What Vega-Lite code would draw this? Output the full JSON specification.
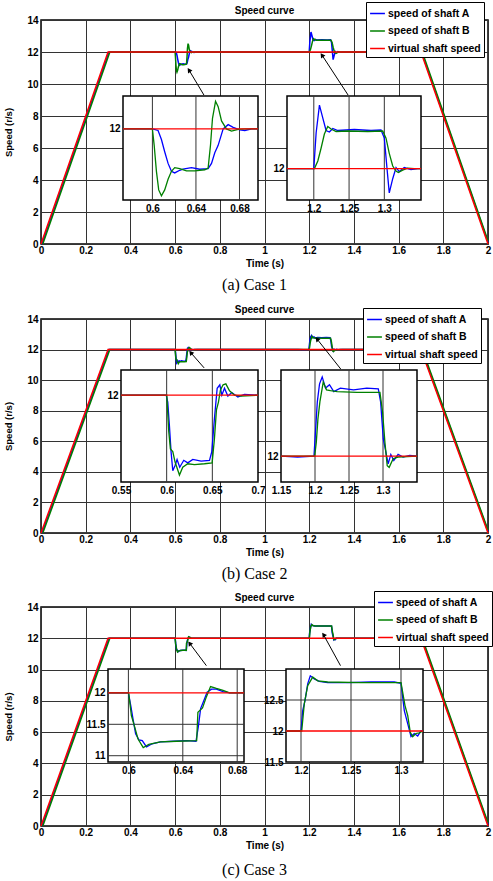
{
"$schema": "https://vega.github.io/schema/vega-lite/v6.json",
"padding": {"left": 3, "top": 0, "right": 0, "bottom": 0},
"spacing": 0,
"columns": 1,
"config": {
  "font": "Liberation Sans",
  "view": {"stroke": "black", "strokeWidth": 1.5},
  "axis": {"labelColor": "black", "titleColor": "black", "labelFontWeight": "bold", "titleFontWeight": "bold", "labelFontSize": 10, "titleFontSize": 10, "labelFont": "Liberation Sans", "titleFont": "Liberation Sans"},
  "title": {"font": "Liberation Sans", "fontSize": 10, "fontWeight": "bold", "color": "black", "frame": "group", "anchor": "middle"}
},
"resolve": {"scale": {"color": "independent"}},
"datasets": {
"p1": [
{"t":0.004,"v":0,"s":"A"},{"t":0.304,"v":12,"s":"A"},{"t":0.573,"v":12,"s":"A"},{"t":0.6,"v":12,"s":"A"},{"t":0.6052,"v":11.97,"s":"A"},{"t":0.6083,"v":11.8,"s":"A"},{"t":0.6113,"v":11.57,"s":"A"},{"t":0.6144,"v":11.35,"s":"A"},{"t":0.6175,"v":11.2,"s":"A"},{"t":0.6205,"v":11.17,"s":"A"},{"t":0.6251,"v":11.22,"s":"A"},{"t":0.628,"v":11.24,"s":"A"},{"t":0.6359,"v":11.27,"s":"A"},{"t":0.6435,"v":11.24,"s":"A"},{"t":0.6512,"v":11.25,"s":"A"},{"t":0.6543,"v":11.35,"s":"A"},{"t":0.6573,"v":11.55,"s":"A"},{"t":0.6604,"v":11.69,"s":"A"},{"t":0.665,"v":12.0,"s":"A"},{"t":0.6696,"v":12.08,"s":"A"},{"t":0.6742,"v":12.03,"s":"A"},{"t":0.6803,"v":11.98,"s":"A"},{"t":0.6849,"v":11.97,"s":"A"},{"t":0.6911,"v":12.0,"s":"A"},{"t":0.697,"v":12,"s":"A"},{"t":1.162,"v":12,"s":"A"},{"t":1.2,"v":12,"s":"A"},{"t":1.2033,"v":12.7,"s":"A"},{"t":1.208,"v":13.25,"s":"A"},{"t":1.2127,"v":13.0,"s":"A"},{"t":1.2174,"v":12.75,"s":"A"},{"t":1.2221,"v":12.72,"s":"A"},{"t":1.2269,"v":12.79,"s":"A"},{"t":1.234,"v":12.75,"s":"A"},{"t":1.2575,"v":12.77,"s":"A"},{"t":1.2811,"v":12.75,"s":"A"},{"t":1.2953,"v":12.76,"s":"A"},{"t":1.3,"v":12.6,"s":"A"},{"t":1.3038,"v":12.0,"s":"A"},{"t":1.307,"v":11.52,"s":"A"},{"t":1.3119,"v":11.8,"s":"A"},{"t":1.3166,"v":12.02,"s":"A"},{"t":1.3212,"v":11.94,"s":"A"},{"t":1.3283,"v":12.02,"s":"A"},{"t":1.3378,"v":11.98,"s":"A"},{"t":1.3473,"v":12.0,"s":"A"},{"t":1.352,"v":12,"s":"A"},{"t":1.703,"v":12,"s":"A"},{"t":2.0,"v":0.12,"s":"A"},
{"t":0.008,"v":0,"s":"B"},{"t":0.308,"v":12,"s":"B"},{"t":0.573,"v":12,"s":"B"},{"t":0.6,"v":12,"s":"B"},{"t":0.6016,"v":11.7,"s":"B"},{"t":0.6037,"v":11.2,"s":"B"},{"t":0.6058,"v":10.85,"s":"B"},{"t":0.6083,"v":10.74,"s":"B"},{"t":0.6113,"v":10.85,"s":"B"},{"t":0.6144,"v":11.05,"s":"B"},{"t":0.6175,"v":11.2,"s":"B"},{"t":0.6205,"v":11.27,"s":"B"},{"t":0.6251,"v":11.25,"s":"B"},{"t":0.6313,"v":11.21,"s":"B"},{"t":0.639,"v":11.21,"s":"B"},{"t":0.6481,"v":11.23,"s":"B"},{"t":0.6512,"v":11.26,"s":"B"},{"t":0.6534,"v":11.7,"s":"B"},{"t":0.6552,"v":12.2,"s":"B"},{"t":0.658,"v":12.52,"s":"B"},{"t":0.6604,"v":12.42,"s":"B"},{"t":0.6635,"v":12.15,"s":"B"},{"t":0.668,"v":12.0,"s":"B"},{"t":0.6727,"v":11.96,"s":"B"},{"t":0.6788,"v":11.99,"s":"B"},{"t":0.6849,"v":12.0,"s":"B"},{"t":0.697,"v":12,"s":"B"},{"t":1.162,"v":12,"s":"B"},{"t":1.2009,"v":12,"s":"B"},{"t":1.2057,"v":12.15,"s":"B"},{"t":1.2103,"v":12.4,"s":"B"},{"t":1.215,"v":12.68,"s":"B"},{"t":1.2198,"v":12.83,"s":"B"},{"t":1.2245,"v":12.78,"s":"B"},{"t":1.2316,"v":12.73,"s":"B"},{"t":1.2481,"v":12.74,"s":"B"},{"t":1.2765,"v":12.73,"s":"B"},{"t":1.2977,"v":12.74,"s":"B"},{"t":1.3024,"v":12.6,"s":"B"},{"t":1.307,"v":12.3,"s":"B"},{"t":1.3119,"v":12.05,"s":"B"},{"t":1.3166,"v":11.95,"s":"B"},{"t":1.3198,"v":11.92,"s":"B"},{"t":1.326,"v":11.97,"s":"B"},{"t":1.3331,"v":12.01,"s":"B"},{"t":1.3425,"v":12.0,"s":"B"},{"t":1.352,"v":12,"s":"B"},{"t":1.706,"v":12,"s":"B"},{"t":2.0,"v":0.2,"s":"B"},
{"t":0,"v":0,"s":"V"},{"t":0.3,"v":12,"s":"V"},{"t":0.573,"v":12,"s":"V"},{"t":0.697,"v":12,"s":"V"},{"t":1.162,"v":12,"s":"V"},{"t":1.352,"v":12,"s":"V"},{"t":1.7,"v":12,"s":"V"},{"t":2.0,"v":0,"s":"V"}
],
"p2": [
{"t":0.004,"v":0,"s":"A"},{"t":0.304,"v":12,"s":"A"},{"t":0.55,"v":12,"s":"A"},{"t":0.5995,"v":12,"s":"A"},{"t":0.6012,"v":11.92,"s":"A"},{"t":0.603,"v":11.65,"s":"A"},{"t":0.6048,"v":11.35,"s":"A"},{"t":0.6067,"v":11.13,"s":"A"},{"t":0.6092,"v":11.19,"s":"A"},{"t":0.6114,"v":11.26,"s":"A"},{"t":0.6143,"v":11.17,"s":"A"},{"t":0.6187,"v":11.25,"s":"A"},{"t":0.6231,"v":11.22,"s":"A"},{"t":0.6286,"v":11.26,"s":"A"},{"t":0.6377,"v":11.24,"s":"A"},{"t":0.6469,"v":11.25,"s":"A"},{"t":0.6494,"v":11.35,"s":"A"},{"t":0.6523,"v":11.73,"s":"A"},{"t":0.6553,"v":12.08,"s":"A"},{"t":0.6582,"v":12.12,"s":"A"},{"t":0.6604,"v":12.0,"s":"A"},{"t":0.6633,"v":12.08,"s":"A"},{"t":0.667,"v":11.99,"s":"A"},{"t":0.6713,"v":12.03,"s":"A"},{"t":0.6779,"v":11.98,"s":"A"},{"t":0.6852,"v":12.01,"s":"A"},{"t":0.7,"v":12,"s":"A"},{"t":1.15,"v":12,"s":"A"},{"t":1.1743,"v":11.99,"s":"A"},{"t":1.1985,"v":12,"s":"A"},{"t":1.201,"v":12.32,"s":"A"},{"t":1.2034,"v":12.63,"s":"A"},{"t":1.2067,"v":12.84,"s":"A"},{"t":1.2106,"v":12.92,"s":"A"},{"t":1.2155,"v":12.79,"s":"A"},{"t":1.2213,"v":12.83,"s":"A"},{"t":1.2276,"v":12.75,"s":"A"},{"t":1.2373,"v":12.79,"s":"A"},{"t":1.2567,"v":12.77,"s":"A"},{"t":1.2761,"v":12.79,"s":"A"},{"t":1.2931,"v":12.78,"s":"A"},{"t":1.2965,"v":12.63,"s":"A"},{"t":1.3004,"v":12.2,"s":"A"},{"t":1.3037,"v":12.07,"s":"A"},{"t":1.3076,"v":11.91,"s":"A"},{"t":1.3115,"v":12.02,"s":"A"},{"t":1.3159,"v":11.95,"s":"A"},{"t":1.3222,"v":12.02,"s":"A"},{"t":1.3295,"v":11.99,"s":"A"},{"t":1.3392,"v":12.01,"s":"A"},{"t":1.35,"v":12,"s":"A"},{"t":1.703,"v":12,"s":"A"},{"t":2.0,"v":0.12,"s":"A"},
{"t":0.008,"v":0,"s":"B"},{"t":0.308,"v":12,"s":"B"},{"t":0.55,"v":12,"s":"B"},{"t":0.6001,"v":12,"s":"B"},{"t":0.6023,"v":11.58,"s":"B"},{"t":0.6041,"v":11.38,"s":"B"},{"t":0.6067,"v":11.35,"s":"B"},{"t":0.6092,"v":11.23,"s":"B"},{"t":0.614,"v":11.08,"s":"B"},{"t":0.6176,"v":11.17,"s":"B"},{"t":0.6231,"v":11.21,"s":"B"},{"t":0.6304,"v":11.2,"s":"B"},{"t":0.6414,"v":11.21,"s":"B"},{"t":0.6498,"v":11.22,"s":"B"},{"t":0.6523,"v":11.5,"s":"B"},{"t":0.6545,"v":11.83,"s":"B"},{"t":0.6567,"v":11.92,"s":"B"},{"t":0.6589,"v":12.06,"s":"B"},{"t":0.6618,"v":12.12,"s":"B"},{"t":0.6648,"v":12.13,"s":"B"},{"t":0.6688,"v":12.05,"s":"B"},{"t":0.6743,"v":12.0,"s":"B"},{"t":0.6816,"v":11.99,"s":"B"},{"t":0.7,"v":12,"s":"B"},{"t":1.15,"v":12,"s":"B"},{"t":1.1995,"v":12,"s":"B"},{"t":1.2019,"v":12.16,"s":"B"},{"t":1.2043,"v":12.43,"s":"B"},{"t":1.2072,"v":12.63,"s":"B"},{"t":1.2121,"v":12.86,"s":"B"},{"t":1.2169,"v":12.77,"s":"B"},{"t":1.2228,"v":12.76,"s":"B"},{"t":1.2325,"v":12.75,"s":"B"},{"t":1.2616,"v":12.74,"s":"B"},{"t":1.2955,"v":12.74,"s":"B"},{"t":1.2994,"v":12.51,"s":"B"},{"t":1.3028,"v":12.16,"s":"B"},{"t":1.3062,"v":11.89,"s":"B"},{"t":1.3091,"v":11.87,"s":"B"},{"t":1.3149,"v":11.97,"s":"B"},{"t":1.3222,"v":11.99,"s":"B"},{"t":1.35,"v":12,"s":"B"},{"t":1.706,"v":12,"s":"B"},{"t":2.0,"v":0.2,"s":"B"},
{"t":0,"v":0,"s":"V"},{"t":0.3,"v":12,"s":"V"},{"t":0.55,"v":12,"s":"V"},{"t":0.7,"v":12,"s":"V"},{"t":1.15,"v":12,"s":"V"},{"t":1.35,"v":12,"s":"V"},{"t":1.7,"v":12,"s":"V"},{"t":2.0,"v":0,"s":"V"}
],
"p3": [
{"t":0.004,"v":0,"s":"A"},{"t":0.304,"v":12,"s":"A"},{"t":0.585,"v":12,"s":"A"},{"t":0.6,"v":12,"s":"A"},{"t":0.6017,"v":11.8,"s":"A"},{"t":0.6036,"v":11.56,"s":"A"},{"t":0.6053,"v":11.35,"s":"A"},{"t":0.6078,"v":11.25,"s":"A"},{"t":0.6102,"v":11.24,"s":"A"},{"t":0.6133,"v":11.14,"s":"A"},{"t":0.6175,"v":11.19,"s":"A"},{"t":0.6235,"v":11.22,"s":"A"},{"t":0.6332,"v":11.23,"s":"A"},{"t":0.6429,"v":11.24,"s":"A"},{"t":0.6497,"v":11.23,"s":"A"},{"t":0.6514,"v":11.46,"s":"A"},{"t":0.6531,"v":11.75,"s":"A"},{"t":0.6555,"v":11.88,"s":"A"},{"t":0.6579,"v":12.01,"s":"A"},{"t":0.6611,"v":12.06,"s":"A"},{"t":0.6647,"v":12.06,"s":"A"},{"t":0.6696,"v":12.02,"s":"A"},{"t":0.6744,"v":12.0,"s":"A"},{"t":0.685,"v":12,"s":"A"},{"t":1.185,"v":12,"s":"A"},{"t":1.2,"v":12,"s":"A"},{"t":1.2017,"v":12.33,"s":"A"},{"t":1.204,"v":12.49,"s":"A"},{"t":1.2067,"v":12.76,"s":"A"},{"t":1.2093,"v":12.89,"s":"A"},{"t":1.2133,"v":12.84,"s":"A"},{"t":1.2183,"v":12.8,"s":"A"},{"t":1.2267,"v":12.78,"s":"A"},{"t":1.2467,"v":12.78,"s":"A"},{"t":1.27,"v":12.79,"s":"A"},{"t":1.2933,"v":12.79,"s":"A"},{"t":1.3,"v":12.77,"s":"A"},{"t":1.3033,"v":12.33,"s":"A"},{"t":1.3067,"v":12.12,"s":"A"},{"t":1.31,"v":11.91,"s":"A"},{"t":1.3133,"v":11.96,"s":"A"},{"t":1.3167,"v":11.92,"s":"A"},{"t":1.32,"v":12.0,"s":"A"},{"t":1.322,"v":12,"s":"A"},{"t":1.703,"v":12,"s":"A"},{"t":2.0,"v":0.12,"s":"A"},
{"t":0.008,"v":0,"s":"B"},{"t":0.308,"v":12,"s":"B"},{"t":0.585,"v":12,"s":"B"},{"t":0.6002,"v":12,"s":"B"},{"t":0.6022,"v":11.64,"s":"B"},{"t":0.6046,"v":11.46,"s":"B"},{"t":0.607,"v":11.27,"s":"B"},{"t":0.6109,"v":11.13,"s":"B"},{"t":0.615,"v":11.18,"s":"B"},{"t":0.6235,"v":11.22,"s":"B"},{"t":0.6356,"v":11.23,"s":"B"},{"t":0.6502,"v":11.24,"s":"B"},{"t":0.6511,"v":11.69,"s":"B"},{"t":0.6545,"v":11.76,"s":"B"},{"t":0.6574,"v":11.94,"s":"B"},{"t":0.6604,"v":12.1,"s":"B"},{"t":0.6647,"v":12.07,"s":"B"},{"t":0.6696,"v":12.04,"s":"B"},{"t":0.6744,"v":12.0,"s":"B"},{"t":0.685,"v":12,"s":"B"},{"t":1.185,"v":12,"s":"B"},{"t":1.2007,"v":12,"s":"B"},{"t":1.2033,"v":12.44,"s":"B"},{"t":1.2067,"v":12.73,"s":"B"},{"t":1.2117,"v":12.87,"s":"B"},{"t":1.2167,"v":12.81,"s":"B"},{"t":1.2267,"v":12.79,"s":"B"},{"t":1.26,"v":12.78,"s":"B"},{"t":1.3,"v":12.78,"s":"B"},{"t":1.304,"v":12.41,"s":"B"},{"t":1.3067,"v":12.25,"s":"B"},{"t":1.3093,"v":11.98,"s":"B"},{"t":1.3117,"v":11.91,"s":"B"},{"t":1.315,"v":11.96,"s":"B"},{"t":1.3183,"v":11.97,"s":"B"},{"t":1.322,"v":12,"s":"B"},{"t":1.706,"v":12,"s":"B"},{"t":2.0,"v":0.2,"s":"B"},
{"t":0,"v":0,"s":"V"},{"t":0.3,"v":12,"s":"V"},{"t":0.585,"v":12,"s":"V"},{"t":0.685,"v":12,"s":"V"},{"t":1.185,"v":12,"s":"V"},{"t":1.322,"v":12,"s":"V"},{"t":1.7,"v":12,"s":"V"},{"t":2.0,"v":0,"s":"V"}
]
},
"concat": [
{
 "width": 447, "height": 224,
 "title": {"text": "Speed curve", "offset": -14.5},
 "data": {"name": "p1"},
 "layer": [
  {"mark": {"type": "line", "strokeWidth": 1.5},
   "encoding": {
    "x": {"field": "t", "type": "quantitative", "title": "Time (s)", "scale": {"domain": [0, 2], "nice": false, "zero": false},
          "axis": {"values": [0,0.2,0.4,0.6,0.8,1,1.2,1.4,1.6,1.8,2], "format": "~g", "grid": true, "gridColor": "#333", "gridOpacity": 1, "gridWidth": 1, "ticks": false, "domain": false, "labelPadding": 1, "labelFlush": false, "labelOverlap": false, "titlePadding": 3, "zindex": 0}},
    "y": {"field": "v", "type": "quantitative", "title": "Speed (r/s)", "scale": {"domain": [0, 14], "nice": false},
          "axis": {"values": [0,2,4,6,8,10,12,14], "format": "d", "grid": true, "gridColor": "#333", "gridOpacity": 1, "gridWidth": 1, "ticks": false, "domain": false, "labelPadding": 3, "labelOverlap": false, "labelFlush": false, "minExtent": 0, "titlePadding": 13, "titleFontSize": 9.5, "zindex": 0}},
    "color": {"field": "s", "type": "nominal", "scale": {"domain": ["A", "B", "V"], "range": ["#0000ff", "#008000", "#ff0000"]},
              "legend": {"orient": "none", "legendX": 325, "legendY": -18, "title": null, "labelExpr": "datum.label == 'A' ? 'speed of shaft A' : datum.label == 'B' ? 'speed of shaft B' : 'virtual shaft speed'", "symbolType": "stroke", "symbolStrokeWidth": 1.5, "symbolSize": 220, "labelFontSize": 10.5, "labelFontWeight": "bold", "labelFont": "Liberation Sans", "labelColor": "black", "strokeColor": "black", "fillColor": "white", "padding": 3, "rowPadding": 3.5, "labelOffset": 2, "labelLimit": 200}}
   }},
  {"data": {"values": [{"t1": 0.729, "v1": 9.31, "t2": 0.662, "v2": 10.875}, {"t1": 1.374, "v1": 9.31, "t2": 1.257, "v2": 11.81}]},
   "encoding": {"x": {"field": "t2", "type": "quantitative", "axis": null, "scale": {"domain": [0, 2], "nice": false, "zero": false}}, "y": {"field": "v2", "type": "quantitative", "axis": null, "scale": {"domain": [0, 14], "nice": false}}},
   "layer": [
    {"mark": {"type": "rule", "color": "black", "strokeWidth": 1}, "encoding": {"x2": {"field": "t1"}, "y2": {"field": "v1"}}},
    {"mark": {"type": "point", "shape": "triangle-up", "filled": true, "color": "black", "opacity": 1, "size": 28, "angle": 326}}
   ]},
  {"encoding": {
     "x": {"field": "t", "type": "quantitative", "scale": {"domain": [0.573, 0.697], "range": [82, 217], "nice": false, "zero": false}, "axis": {"orient": "bottom", "offset": -44, "values": [0.6, 0.64, 0.68], "format": "~g", "grid": false, "ticks": false, "domain": false, "labelPadding": 3, "labelFlush": false, "labelOverlap": false, "title": null, "zindex": 2}},
     "y": {"field": "v", "type": "quantitative", "scale": {"domain": [10.66, 12.62], "range": [180, 76], "nice": false, "zero": false}, "axis": {"orient": "left", "offset": -82, "values": [12], "format": "~g", "grid": false, "ticks": false, "domain": false, "labelPadding": 3, "minExtent": 0, "labelOverlap": false, "title": null, "zindex": 2}}},
   "layer": [
    {"data": {"values": [{"t": 0.573, "t2": 0.697, "v": 10.66, "v2": 12.62}]}, "mark": {"type": "rect", "fill": "white", "stroke": "black", "strokeWidth": 1.5}, "encoding": {"x2": {"field": "t2"}, "y2": {"field": "v2"}}},
    {"data": {"values": [{"t": 0.6, "t2": 0.6, "v": 10.66, "v2": 12.62}, {"t": 0.64, "t2": 0.64, "v": 10.66, "v2": 12.62}, {"t": 0.68, "t2": 0.68, "v": 10.66, "v2": 12.62}]}, "mark": {"type": "rule", "color": "#333", "strokeWidth": 1}, "encoding": {"x2": {"field": "t2"}, "y2": {"field": "v2"}}},
    {"transform": [{"filter": {"field": "t", "range": [0.573, 0.697]}}], "mark": {"type": "line", "strokeWidth": 1.3}, "encoding": {"color": {"field": "s", "type": "nominal", "legend": null}}}
   ]},
  {"encoding": {
     "x": {"field": "t", "type": "quantitative", "scale": {"domain": [1.162, 1.352], "range": [246, 380], "nice": false, "zero": false}, "axis": {"orient": "bottom", "offset": -44, "values": [1.2, 1.25, 1.3], "format": "~g", "grid": false, "ticks": false, "domain": false, "labelPadding": 3, "labelFlush": false, "labelOverlap": false, "title": null, "zindex": 2}},
     "y": {"field": "v", "type": "quantitative", "scale": {"domain": [11.38, 13.43], "range": [180, 76], "nice": false, "zero": false}, "axis": {"orient": "left", "offset": -246, "values": [12], "format": "~g", "grid": false, "ticks": false, "domain": false, "labelPadding": 3, "minExtent": 0, "labelOverlap": false, "title": null, "zindex": 2}}},
   "layer": [
    {"data": {"values": [{"t": 1.162, "t2": 1.352, "v": 11.38, "v2": 13.43}]}, "mark": {"type": "rect", "fill": "white", "stroke": "black", "strokeWidth": 1.5}, "encoding": {"x2": {"field": "t2"}, "y2": {"field": "v2"}}},
    {"data": {"values": [{"t": 1.2, "t2": 1.2, "v": 11.38, "v2": 13.43}, {"t": 1.25, "t2": 1.25, "v": 11.38, "v2": 13.43}, {"t": 1.3, "t2": 1.3, "v": 11.38, "v2": 13.43}]}, "mark": {"type": "rule", "color": "#333", "strokeWidth": 1}, "encoding": {"x2": {"field": "t2"}, "y2": {"field": "v2"}}},
    {"transform": [{"filter": {"field": "t", "range": [1.162, 1.352]}}], "mark": {"type": "line", "strokeWidth": 1.3}, "encoding": {"color": {"field": "s", "type": "nominal", "legend": null}}}
   ]}
 ],
 "resolve": {"scale": {"x": "independent", "y": "independent"}}
},
{"width": 447, "height": 35, "view": {"stroke": null}, "data": {"values": [{"c": "(a) Case 1"}]}, "mark": {"type": "text", "font": "Liberation Serif", "fontSize": 16, "color": "black", "dx": -10, "dy": -2}, "encoding": {"text": {"field": "c"}}},
{
 "width": 447, "height": 214,
 "title": {"text": "Speed curve", "offset": -7.5},
 "data": {"name": "p2"},
 "layer": [
  {"mark": {"type": "line", "strokeWidth": 1.5},
   "encoding": {
    "x": {"field": "t", "type": "quantitative", "title": "Time (s)", "scale": {"domain": [0, 2], "nice": false, "zero": false},
          "axis": {"values": [0,0.2,0.4,0.6,0.8,1,1.2,1.4,1.6,1.8,2], "format": "~g", "grid": true, "gridColor": "#333", "gridOpacity": 1, "gridWidth": 1, "ticks": false, "domain": false, "labelPadding": 1, "labelFlush": false, "labelOverlap": false, "titlePadding": 3, "zindex": 0}},
    "y": {"field": "v", "type": "quantitative", "title": "Speed (r/s)", "scale": {"domain": [0, 14], "nice": false},
          "axis": {"values": [0,2,4,6,8,10,12,14], "format": "d", "grid": true, "gridColor": "#333", "gridOpacity": 1, "gridWidth": 1, "ticks": false, "domain": false, "labelPadding": 3, "labelOverlap": false, "labelFlush": false, "minExtent": 0, "titlePadding": 13, "titleFontSize": 9.5, "zindex": 0}},
    "color": {"field": "s", "type": "nominal", "scale": {"domain": ["A", "B", "V"], "range": ["#0000ff", "#008000", "#ff0000"]},
              "legend": {"orient": "none", "legendX": 322, "legendY": -11, "title": null, "labelExpr": "datum.label == 'A' ? 'speed of shaft A' : datum.label == 'B' ? 'speed of shaft B' : 'virtual shaft speed'", "symbolType": "stroke", "symbolStrokeWidth": 1.5, "symbolSize": 220, "labelFontSize": 10.5, "labelFontWeight": "bold", "labelFont": "Liberation Sans", "labelColor": "black", "strokeColor": "black", "fillColor": "white", "padding": 3, "rowPadding": 3.5, "labelOffset": 2, "labelLimit": 200}}
   }},
  {"data": {"values": [{"t1": 0.73, "v1": 10.8, "t2": 0.67, "v2": 11.8}, {"t1": 1.341, "v1": 10.73, "t2": 1.235, "v2": 12.69}]},
   "encoding": {"x": {"field": "t2", "type": "quantitative", "axis": null, "scale": {"domain": [0, 2], "nice": false, "zero": false}}, "y": {"field": "v2", "type": "quantitative", "axis": null, "scale": {"domain": [0, 14], "nice": false}}},
   "layer": [
    {"mark": {"type": "rule", "color": "black", "strokeWidth": 1}, "encoding": {"x2": {"field": "t1"}, "y2": {"field": "v1"}}},
    {"mark": {"type": "point", "shape": "triangle-up", "filled": true, "color": "black", "opacity": 1, "size": 28, "angle": 320}}
   ]},
  {"encoding": {
     "x": {"field": "t", "type": "quantitative", "scale": {"domain": [0.55, 0.7], "range": [80, 217], "nice": false, "zero": false}, "axis": {"orient": "bottom", "offset": -51, "values": [0.55, 0.6, 0.65, 0.7], "format": "~g", "grid": false, "ticks": false, "domain": false, "labelPadding": 3, "labelFlush": false, "labelOverlap": false, "title": null, "zindex": 2}},
     "y": {"field": "v", "type": "quantitative", "scale": {"domain": [11.0, 12.29], "range": [163, 51], "nice": false, "zero": false}, "axis": {"orient": "left", "offset": -80, "values": [12], "format": "~g", "grid": false, "ticks": false, "domain": false, "labelPadding": 3, "minExtent": 0, "labelOverlap": false, "title": null, "zindex": 2}}},
   "layer": [
    {"data": {"values": [{"t": 0.55, "t2": 0.7, "v": 11.0, "v2": 12.29}]}, "mark": {"type": "rect", "fill": "white", "stroke": "black", "strokeWidth": 1.5}, "encoding": {"x2": {"field": "t2"}, "y2": {"field": "v2"}}},
    {"data": {"values": [{"t": 0.6, "t2": 0.6, "v": 11.0, "v2": 12.29}, {"t": 0.65, "t2": 0.65, "v": 11.0, "v2": 12.29}]}, "mark": {"type": "rule", "color": "#333", "strokeWidth": 1}, "encoding": {"x2": {"field": "t2"}, "y2": {"field": "v2"}}},
    {"transform": [{"filter": {"field": "t", "range": [0.55, 0.7]}}], "mark": {"type": "line", "strokeWidth": 1.3}, "encoding": {"color": {"field": "s", "type": "nominal", "legend": null}}}
   ]},
  {"encoding": {
     "x": {"field": "t", "type": "quantitative", "scale": {"domain": [1.15, 1.35], "range": [240, 376], "nice": false, "zero": false}, "axis": {"orient": "bottom", "offset": -51, "values": [1.15, 1.2, 1.25, 1.3], "format": "~g", "grid": false, "ticks": false, "domain": false, "labelPadding": 3, "labelFlush": false, "labelOverlap": false, "title": null, "zindex": 2}},
     "y": {"field": "v", "type": "quantitative", "scale": {"domain": [11.7, 13.0], "range": [163, 51], "nice": false, "zero": false}, "axis": {"orient": "left", "offset": -240, "values": [12], "format": "~g", "grid": false, "ticks": false, "domain": false, "labelPadding": 3, "minExtent": 0, "labelOverlap": false, "title": null, "zindex": 2}}},
   "layer": [
    {"data": {"values": [{"t": 1.15, "t2": 1.35, "v": 11.7, "v2": 13.0}]}, "mark": {"type": "rect", "fill": "white", "stroke": "black", "strokeWidth": 1.5}, "encoding": {"x2": {"field": "t2"}, "y2": {"field": "v2"}}},
    {"data": {"values": [{"t": 1.2, "t2": 1.2, "v": 11.7, "v2": 13.0}, {"t": 1.25, "t2": 1.25, "v": 11.7, "v2": 13.0}, {"t": 1.3, "t2": 1.3, "v": 11.7, "v2": 13.0}]}, "mark": {"type": "rule", "color": "#333", "strokeWidth": 1}, "encoding": {"x2": {"field": "t2"}, "y2": {"field": "v2"}}},
    {"transform": [{"filter": {"field": "t", "range": [1.15, 1.35]}}], "mark": {"type": "line", "strokeWidth": 1.3}, "encoding": {"color": {"field": "s", "type": "nominal", "legend": null}}}
   ]}
 ],
 "resolve": {"scale": {"x": "independent", "y": "independent"}}
},
{"width": 447, "height": 31, "view": {"stroke": null}, "data": {"values": [{"c": "(b) Case 2"}]}, "mark": {"type": "text", "font": "Liberation Serif", "fontSize": 16, "color": "black", "dx": -10, "dy": 0}, "encoding": {"text": {"field": "c"}}},
{
 "width": 447, "height": 219,
 "title": {"text": "Speed curve", "offset": -12.5},
 "data": {"name": "p3"},
 "layer": [
  {"mark": {"type": "line", "strokeWidth": 1.5},
   "encoding": {
    "x": {"field": "t", "type": "quantitative", "title": "Time (s)", "scale": {"domain": [0, 2], "nice": false, "zero": false},
          "axis": {"values": [0,0.2,0.4,0.6,0.8,1,1.2,1.4,1.6,1.8,2], "format": "~g", "grid": true, "gridColor": "#333", "gridOpacity": 1, "gridWidth": 1, "ticks": false, "domain": false, "labelPadding": 1, "labelFlush": false, "labelOverlap": false, "titlePadding": 3, "zindex": 0}},
    "y": {"field": "v", "type": "quantitative", "title": "Speed (r/s)", "scale": {"domain": [0, 14], "nice": false},
          "axis": {"values": [0,2,4,6,8,10,12,14], "format": "d", "grid": true, "gridColor": "#333", "gridOpacity": 1, "gridWidth": 1, "ticks": false, "domain": false, "labelPadding": 3, "labelOverlap": false, "labelFlush": false, "minExtent": 0, "titlePadding": 13, "titleFontSize": 9.5, "zindex": 0}},
    "color": {"field": "s", "type": "nominal", "scale": {"domain": ["A", "B", "V"], "range": ["#0000ff", "#008000", "#ff0000"]},
              "legend": {"orient": "none", "legendX": 333, "legendY": -16, "title": null, "labelExpr": "datum.label == 'A' ? 'speed of shaft A' : datum.label == 'B' ? 'speed of shaft B' : 'virtual shaft speed'", "symbolType": "stroke", "symbolStrokeWidth": 1.5, "symbolSize": 220, "labelFontSize": 10.5, "labelFontWeight": "bold", "labelFont": "Liberation Sans", "labelColor": "black", "strokeColor": "black", "fillColor": "white", "padding": 3, "rowPadding": 3.5, "labelOffset": 2, "labelLimit": 200}}
   }},
  {"data": {"values": [{"t1": 0.74, "v1": 10.25, "t2": 0.665, "v2": 11.68}, {"t1": 1.34, "v1": 10.25, "t2": 1.264, "v2": 12.23}]},
   "encoding": {"x": {"field": "t2", "type": "quantitative", "axis": null, "scale": {"domain": [0, 2], "nice": false, "zero": false}}, "y": {"field": "v2", "type": "quantitative", "axis": null, "scale": {"domain": [0, 14], "nice": false}}},
   "layer": [
    {"mark": {"type": "rule", "color": "black", "strokeWidth": 1}, "encoding": {"x2": {"field": "t1"}, "y2": {"field": "v1"}}},
    {"mark": {"type": "point", "shape": "triangle-up", "filled": true, "color": "black", "opacity": 1, "size": 28, "angle": 324}}
   ]},
  {"encoding": {
     "x": {"field": "t", "type": "quantitative", "scale": {"domain": [0.585, 0.685], "range": [67, 203], "nice": false, "zero": false}, "axis": {"orient": "bottom", "offset": -64, "values": [0.6, 0.64, 0.68], "format": "~g", "grid": false, "ticks": false, "domain": false, "labelPadding": 3, "labelFlush": false, "labelOverlap": false, "title": null, "zindex": 2}},
     "y": {"field": "v", "type": "quantitative", "scale": {"domain": [10.9, 12.38], "range": [155, 62], "nice": false, "zero": false}, "axis": {"orient": "left", "offset": -67, "values": [11, 11.5, 12], "format": "~g", "grid": false, "ticks": false, "domain": false, "labelPadding": 3, "minExtent": 0, "labelOverlap": false, "title": null, "zindex": 2}}},
   "layer": [
    {"data": {"values": [{"t": 0.585, "t2": 0.685, "v": 10.9, "v2": 12.38}]}, "mark": {"type": "rect", "fill": "white", "stroke": "black", "strokeWidth": 1.5}, "encoding": {"x2": {"field": "t2"}, "y2": {"field": "v2"}}},
    {"data": {"values": [{"t": 0.6, "t2": 0.6, "v": 10.9, "v2": 12.38}, {"t": 0.64, "t2": 0.64, "v": 10.9, "v2": 12.38}, {"t": 0.68, "t2": 0.68, "v": 10.9, "v2": 12.38}, {"t": 0.585, "t2": 0.685, "v": 11, "v2": 11}, {"t": 0.585, "t2": 0.685, "v": 11.5, "v2": 11.5}]}, "mark": {"type": "rule", "color": "#333", "strokeWidth": 1}, "encoding": {"x2": {"field": "t2"}, "y2": {"field": "v2"}}},
    {"transform": [{"filter": {"field": "t", "range": [0.585, 0.685]}}], "mark": {"type": "line", "strokeWidth": 1.3}, "encoding": {"color": {"field": "s", "type": "nominal", "legend": null}}}
   ]},
  {"encoding": {
     "x": {"field": "t", "type": "quantitative", "scale": {"domain": [1.185, 1.322], "range": [245, 382], "nice": false, "zero": false}, "axis": {"orient": "bottom", "offset": -64, "values": [1.2, 1.25, 1.3], "format": "~g", "grid": false, "ticks": false, "domain": false, "labelPadding": 3, "labelFlush": false, "labelOverlap": false, "title": null, "zindex": 2}},
     "y": {"field": "v", "type": "quantitative", "scale": {"domain": [11.5, 13.0], "range": [155, 62], "nice": false, "zero": false}, "axis": {"orient": "left", "offset": -245, "values": [11.5, 12, 12.5], "format": "~g", "grid": false, "ticks": false, "domain": false, "labelPadding": 3, "minExtent": 0, "labelOverlap": false, "title": null, "zindex": 2}}},
   "layer": [
    {"data": {"values": [{"t": 1.185, "t2": 1.322, "v": 11.5, "v2": 13.0}]}, "mark": {"type": "rect", "fill": "white", "stroke": "black", "strokeWidth": 1.5}, "encoding": {"x2": {"field": "t2"}, "y2": {"field": "v2"}}},
    {"data": {"values": [{"t": 1.2, "t2": 1.2, "v": 11.5, "v2": 13.0}, {"t": 1.25, "t2": 1.25, "v": 11.5, "v2": 13.0}, {"t": 1.3, "t2": 1.3, "v": 11.5, "v2": 13.0}, {"t": 1.185, "t2": 1.322, "v": 12.5, "v2": 12.5}]}, "mark": {"type": "rule", "color": "#333", "strokeWidth": 1}, "encoding": {"x2": {"field": "t2"}, "y2": {"field": "v2"}}},
    {"transform": [{"filter": {"field": "t", "range": [1.185, 1.322]}}], "mark": {"type": "line", "strokeWidth": 1.3}, "encoding": {"color": {"field": "s", "type": "nominal", "legend": null}}}
   ]}
 ],
 "resolve": {"scale": {"x": "independent", "y": "independent"}}
},
{"width": 447, "height": 34, "view": {"stroke": null}, "data": {"values": [{"c": "(c) Case 3"}]}, "mark": {"type": "text", "font": "Liberation Serif", "fontSize": 16, "color": "black", "dx": -10, "dy": 2}, "encoding": {"text": {"field": "c"}}}
]
}
